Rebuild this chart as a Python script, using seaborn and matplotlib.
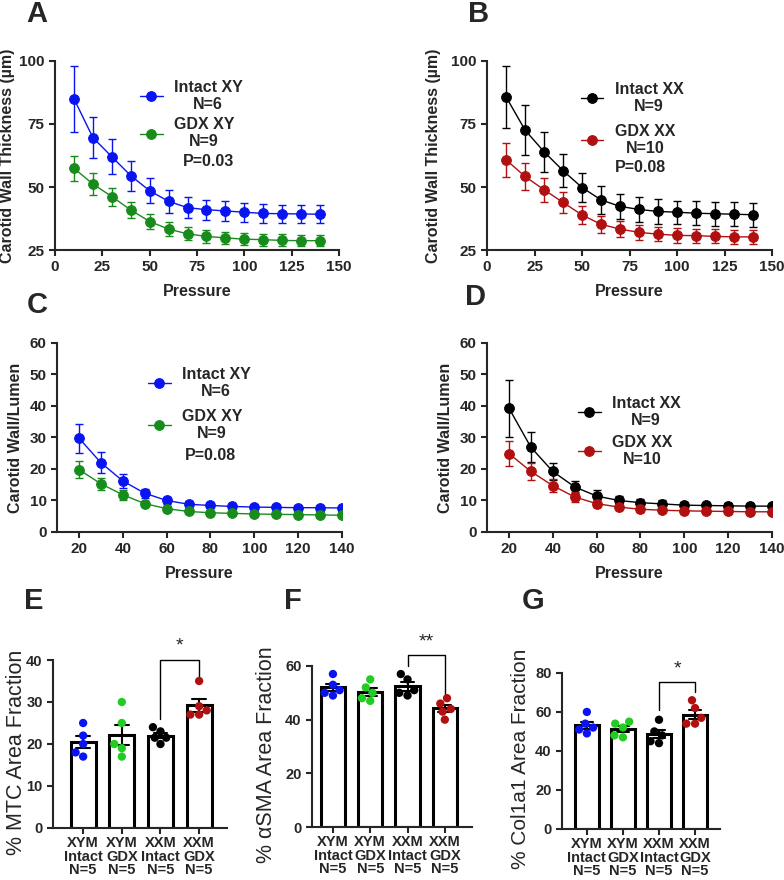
import matplotlib
matplotlib.use("Agg")
import matplotlib.pyplot as plt
import seaborn as sns
import pandas as pd

# pressure myography: means and SEM
pressure_ab = [10, 20, 30, 40, 50, 60, 70, 80, 90, 100, 110, 120, 130, 140]
thick_intact_xy = [85.0, 69.6, 62.0, 54.5, 48.5, 44.3, 41.8, 41.0, 40.5, 40.0, 39.5, 39.4, 39.3, 39.2]
thick_intact_xy_sem = [13.0, 8.0, 7.0, 6.0, 5.0, 4.7, 4.2, 4.0, 4.0, 3.7, 3.6, 3.6, 3.6, 3.6]
thick_gdx_xy = [57.4, 51.2, 46.2, 40.9, 36.3, 33.3, 31.4, 30.4, 29.8, 29.3, 29.1, 28.8, 28.7, 28.7]
thick_gdx_xy_sem = [5.0, 4.3, 3.6, 3.2, 2.9, 2.7, 2.6, 2.6, 2.3, 2.4, 2.4, 2.4, 2.3, 2.3]
thick_intact_xx = [85.8, 72.6, 64.0, 56.5, 49.8, 44.9, 42.3, 41.1, 40.3, 40.0, 39.6, 39.4, 39.2, 39.0]
thick_intact_xx_sem = [12.3, 10.0, 8.0, 6.5, 5.9, 5.5, 5.1, 4.8, 4.9, 4.6, 4.7, 4.7, 4.8, 4.8]
thick_gdx_xx = [60.8, 54.2, 48.9, 43.9, 38.9, 35.2, 33.3, 32.0, 31.3, 30.8, 30.7, 30.4, 30.2, 30.2]
thick_gdx_xx_sem = [6.8, 5.4, 4.8, 4.2, 3.7, 3.3, 3.2, 3.0, 2.9, 2.9, 2.8, 2.8, 2.8, 2.8]

pressure_cd = [20, 30, 40, 50, 60, 70, 80, 90, 100, 110, 120, 130, 140]
wl_intact_xy = [29.8, 22.0, 16.2, 12.3, 10.0, 8.8, 8.4, 8.1, 7.9, 7.8, 7.7, 7.7, 7.6]
wl_intact_xy_sem = [4.6, 3.3, 2.1, 1.4, 1.2, 0.9, 0.8, 0.7, 0.7, 0.7, 0.6, 0.6, 0.6]
wl_gdx_xy = [19.8, 15.3, 11.8, 9.0, 7.4, 6.5, 6.1, 5.9, 5.7, 5.6, 5.5, 5.4, 5.3]
wl_gdx_xy_sem = [2.7, 1.9, 1.5, 0.9, 0.7, 0.6, 0.6, 0.5, 0.5, 0.5, 0.5, 0.5, 0.5]
wl_intact_xx = [39.3, 26.9, 19.2, 14.3, 11.4, 10.0, 9.3, 8.9, 8.5, 8.4, 8.3, 8.2, 8.2]
wl_intact_xx_sem = [9.0, 4.7, 2.7, 2.0, 1.8, 1.5, 1.3, 1.1, 1.0, 0.9, 0.9, 0.8, 0.8]
wl_gdx_xx = [24.9, 19.2, 14.7, 11.1, 9.0, 7.9, 7.2, 6.9, 6.7, 6.6, 6.5, 6.4, 6.4]
wl_gdx_xx_sem = [3.9, 2.8, 2.0, 1.5, 1.1, 0.8, 0.8, 0.7, 0.6, 0.6, 0.6, 0.6, 0.6]

# histology, individual animals
groups = ["XYM\nIntact\nN=5", "XYM\nGDX\nN=5", "XXM\nIntact\nN=5", "XXM\nGDX\nN=5"]
mtc_xym_intact = [25, 22, 20, 17, 18]
mtc_xym_gdx = [30, 25, 20, 19, 17]
mtc_xxm_intact = [24, 23, 21.5, 21.5, 20]
mtc_xxm_gdx = [35, 29, 28, 27, 27]
sma_xym_intact = [57, 53, 51, 50, 49]
sma_xym_gdx = [55, 52, 50, 48, 47]
sma_xxm_intact = [57, 55, 51, 50, 49]
sma_xxm_gdx = [48, 46, 44, 43, 40]
col_xym_intact = [60, 54, 52, 51, 49]
col_xym_gdx = [55, 54, 52, 48, 47]
col_xxm_intact = [56, 50, 48, 45, 44]
col_xxm_gdx = [66, 62, 57, 54, 54]

BLUE = "#0a14f0"
GREEN = "#178c1c"
LIME = "#22cc22"
RED = "#b01010"
BLACK = "#000000"

sns.set_style("ticks")
plt.rcParams["font.family"] = ["Liberation Sans", "DejaVu Sans"]
plt.rcParams["font.weight"] = "bold"
plt.rcParams["axes.labelweight"] = "bold"
plt.rcParams["axes.linewidth"] = 1.5
plt.rcParams["xtick.major.width"] = 1.5
plt.rcParams["ytick.major.width"] = 1.5
plt.rcParams["xtick.major.size"] = 4
plt.rcParams["ytick.major.size"] = 4
plt.rcParams["xtick.labelsize"] = 11
plt.rcParams["ytick.labelsize"] = 11

fig = plt.figure(figsize=(7.84, 8.8), dpi=100)


def curve(ax, x, y, sem, color, label):
    sns.lineplot(x=x, y=y, color=color, marker="o", markersize=7, markeredgecolor=color,
                 linewidth=1, label=label, ax=ax)
    ax.errorbar(x, y, yerr=sem, fmt="none", ecolor=color, elinewidth=1, capsize=3, capthick=1)


def style_line_ax(ax, ylabel, ylab_x):
    sns.despine(ax=ax)
    ax.set_xlabel("Pressure", fontsize=11.5)
    ax.set_ylabel(ylabel, fontsize=11.5)
    ax.yaxis.set_label_coords(ylab_x, 0.5)
    ax.xaxis.set_label_coords(0.5, -0.18)


def legend(ax, x, y, spacing):
    leg = ax.legend(loc="upper left", bbox_to_anchor=(x, y), frameon=False, fontsize=11.5,
                    handlelength=1.4, handletextpad=0.7, labelspacing=spacing,
                    borderpad=0, borderaxespad=0)
    for t in leg.get_texts():
        t.set_multialignment("center")


# A
axA = fig.add_axes([0.0702, 0.7159, 0.3622, 0.2148])
curve(axA, pressure_ab, thick_intact_xy, thick_intact_xy_sem, BLUE, "Intact XY\nN=6")
curve(axA, pressure_ab, thick_gdx_xy, thick_gdx_xy_sem, GREEN, "GDX XY\nN=9")
axA.set_xlim(0, 150)
axA.set_ylim(25, 100)
axA.set_xticks([0, 25, 50, 75, 100, 125, 150])
axA.set_yticks([25, 50, 75, 100])
style_line_ax(axA, "Carotid Wall Thickness (µm)", -0.14)
legend(axA, 0.30, 0.90, 0.3)
axA.text(0.542, 0.47, "P=0.03", transform=axA.transAxes, ha="center", va="center", fontsize=11.5)

# B
axB = fig.add_axes([0.6212, 0.7159, 0.3635, 0.2148])
curve(axB, pressure_ab, thick_intact_xx, thick_intact_xx_sem, BLACK, "Intact XX\nN=9")
curve(axB, pressure_ab, thick_gdx_xx, thick_gdx_xx_sem, RED, "GDX XX\nN=10")
axB.set_xlim(0, 150)
axB.set_ylim(25, 100)
axB.set_xticks([0, 25, 50, 75, 100, 125, 150])
axB.set_yticks([25, 50, 75, 100])
style_line_ax(axB, "Carotid Wall Thickness (µm)", -0.16)
legend(axB, 0.33, 0.89, 0.6)
axB.text(0.449, 0.435, "P=0.08", transform=axB.transAxes, ha="left", va="center", fontsize=11.5)

# C
axC = fig.add_axes([0.0727, 0.3955, 0.3635, 0.2148])
curve(axC, pressure_cd, wl_intact_xy, wl_intact_xy_sem, BLUE, "Intact XY\nN=6")
curve(axC, pressure_cd, wl_gdx_xy, wl_gdx_xy_sem, GREEN, "GDX XY\nN=9")
axC.set_xlim(10, 140)
axC.set_ylim(0, 60)
axC.set_xticks([20, 40, 60, 80, 100, 120, 140])
axC.set_yticks([0, 10, 20, 30, 40, 50, 60])
style_line_ax(axC, "Carotid Wall/Lumen", -0.12)
legend(axC, 0.32, 0.875, 0.6)
axC.text(0.537, 0.402, "P=0.08", transform=axC.transAxes, ha="center", va="center", fontsize=11.5)

# D
axD = fig.add_axes([0.6212, 0.3955, 0.3635, 0.2148])
curve(axD, pressure_cd, wl_intact_xx, wl_intact_xx_sem, BLACK, "Intact XX\nN=9")
curve(axD, pressure_cd, wl_gdx_xx, wl_gdx_xx_sem, RED, "GDX XX\nN=10")
axD.set_xlim(10, 140)
axD.set_ylim(0, 60)
axD.set_xticks([20, 40, 60, 80, 100, 120, 140])
axD.set_yticks([0, 10, 20, 30, 40, 50, 60])
style_line_ax(axD, "Carotid Wall/Lumen", -0.12)
legend(axD, 0.32, 0.72, 0.4)


def bar_panel(rect, series, ylabel, ylab_size, ylab_x, ylim, yticks, xlim, bracket, stars):
    ax = fig.add_axes(rect)
    df = pd.DataFrame({
        "group": [g for g, vals in zip(groups, series) for _ in vals],
        "value": [v for vals in series for v in vals],
    })
    sns.barplot(data=df, x="group", y="value", order=groups, errorbar="se", capsize=0.35,
                color="white", edgecolor="black", linewidth=2.2, width=0.65,
                err_kws={"color": "black", "linewidth": 1.5}, ax=ax)
    sns.swarmplot(data=df, x="group", y="value", order=groups, hue="group", hue_order=groups,
                  palette=[BLUE, LIME, BLACK, RED], size=6, linewidth=0, legend=False, ax=ax)
    ax.set_ylim(*ylim)
    ax.set_yticks(yticks)
    ax.set_xlim(*xlim)
    sns.despine(ax=ax)
    ax.set_xlabel("")
    ax.set_ylabel(ylabel, fontsize=ylab_size, fontweight="normal")
    ax.yaxis.set_label_coords(ylab_x, 0.45)
    ax.tick_params(axis="x", pad=2, labelsize=10.5)
    ax.tick_params(axis="y", labelsize=10.5)
    for t in ax.get_xticklabels():
        t.set_linespacing(0.95)
    y_left, y_top, y_right = bracket
    ax.plot([2, 2, 3, 3], [y_left, y_top, y_top, y_right], color="black", linewidth=1, clip_on=False)
    ax.text(2.5, y_top + (ylim[1] - ylim[0]) * 0.03, stars, ha="center", va="bottom", fontsize=14,
            fontweight="normal")
    return ax


bar_panel([0.0676, 0.0591, 0.2219, 0.1909],
          [mtc_xym_intact, mtc_xym_gdx, mtc_xxm_intact, mtc_xxm_gdx],
          "% MTC Area Fraction", 15.5, -0.15, (0, 40), [0, 10, 20, 30, 40], (-0.78, 3.72),
          (26, 40, 35.3), "*")
bar_panel([0.398, 0.0602, 0.2041, 0.183],
          [sma_xym_intact, sma_xym_gdx, sma_xxm_intact, sma_xxm_gdx],
          "% αSMA Area Fraction", 15.5, -0.22, (0, 60), [0, 20, 40, 60], (-0.56, 3.73),
          (60, 64, 49.5), "**")
bar_panel([0.7168, 0.058, 0.2015, 0.1773],
          [col_xym_intact, col_xym_gdx, col_xxm_intact, col_xxm_gdx],
          "% Col1a1 Area Fraction", 15, -0.2, (0, 80), [0, 20, 40, 60, 80], (-0.69, 3.69),
          (61, 75.4, 70), "*")

# panel letters
for letter, x, y in [("A", 37, 14), ("B", 479, 14), ("C", 37, 305), ("D", 476, 297),
                     ("E", 34, 601), ("F", 293, 601), ("G", 533, 601)]:
    fig.text(x / 784, 1 - y / 880, letter, ha="center", va="center", fontsize=21, fontweight="bold")

fig.savefig("out.png", dpi=100)
